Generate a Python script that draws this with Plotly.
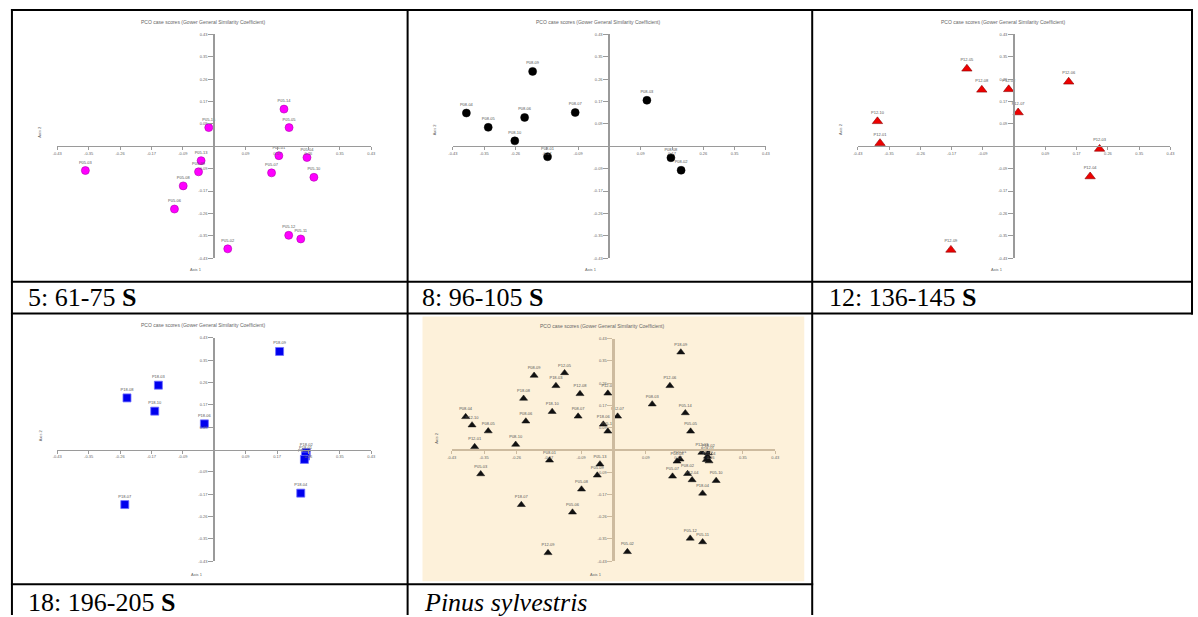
import plotly.graph_objects as go

W, H = 1198, 617

# ---------------- data ----------------
TICK_VALS = [-0.43, -0.344, -0.258, -0.172, -0.086, 0.086, 0.172, 0.258, 0.344, 0.43]
TICK_TEXT = ["-0.43", "-0.35", "-0.26", "-0.17", "-0.09", "0.09", "0.17", "0.26", "0.35", "0.43"]

TITLE = "PCO case scores (Gower General Similarity Coefficient)"

P05_labels = ["P05-15", "P05-14", "P05-05", "P05-01", "P05-04", "P05-07", "P05-10", "P05-03",
              "P05-13", "P05-09", "P05-08", "P05-06", "P05-12", "P05-11", "P05-02"]
P05_x = [-0.015, 0.191, 0.205, 0.177, 0.254, 0.157, 0.273, -0.353,
         -0.036, -0.043, -0.085, -0.109, 0.204, 0.237, 0.037]
P05_y = [0.072, 0.143, 0.072, -0.036, -0.043, -0.102, -0.119, -0.093,
         -0.055, -0.098, -0.152, -0.241, -0.342, -0.356, -0.394]

P08_labels = ["P08-09", "P08-04", "P08-05", "P08-06", "P08-10", "P08-07", "P08-01", "P08-03", "P08-08", "P08-02"]
P08_x = [-0.211, -0.393, -0.333, -0.233, -0.260, -0.094, -0.170, 0.103, 0.169, 0.197]
P08_y = [0.288, 0.128, 0.073, 0.111, 0.021, 0.130, -0.040, 0.177, -0.044, -0.092]

P12_labels = ["P12-05", "P12-08", "P12-02", "P12-06", "P12-07", "P12-10", "P12-01", "P12-03", "P12-04", "P12-09"]
P12_x = [-0.130, -0.089, -0.015, 0.150, 0.011, -0.376, -0.369, 0.235, 0.209, -0.174]
P12_y = [0.298, 0.217, 0.219, 0.248, 0.130, 0.096, 0.012, -0.010, -0.116, -0.398]

P18_labels = ["P18-09", "P18-03", "P18-08", "P18-10", "P18-06", "P18-07", "P18-04", "P18-02", "P18-01", "P18-05"]
P18_x = [0.179, -0.153, -0.239, -0.163, -0.027, -0.245, 0.237, 0.252, 0.250, 0.247]
P18_y = [0.378, 0.248, 0.199, 0.148, 0.099, -0.212, -0.168, -0.012, -0.025, -0.038]

PINUS_labels = P05_labels + P08_labels + P12_labels + P18_labels
PINUS_x = P05_x + P08_x + P12_x + P18_x
PINUS_y = P05_y + P08_y + P12_y + P18_y

CAPTIONS = ["5: 61-75 <b>S</b>", "8: 96-105 <b>S</b>", "12: 136-145 <b>S</b>",
            "18: 196-205 <b>S</b>", "<i>Pinus sylvestris</i>"]

# ---------------- layout helpers ----------------
def px(x):
    return x / W


def py(y):
    return 1 - y / H


fig = go.Figure()
layout = dict(width=W, height=H, margin=dict(l=0, r=0, t=0, b=0), autosize=False,
              paper_bgcolor="white", plot_bgcolor="rgba(0,0,0,0)", showlegend=False)
annotations = []
shapes = []

LBL_FONT = dict(family="Liberation Sans, Arial", size=4, color="#555555")

# panel frames: x-axis pixel extent (x0,x1), y-axis pixel extent (top,bottom)
panels = [
    dict(x0=52.7, x1=369.3, y0=31.7, y1=257.3, title=(200, 19), ax1=(193, 269), ax2=(35, 130),
         data=(P05_labels, P05_x, P05_y),
         marker=dict(symbol="circle", size=8, color="#FF00FF", line=dict(color="#b000b0", width=0.6)),
         axcol="#9a9a9a", axw=1),
    dict(x0=451.7, x1=767.3, y0=31.7, y1=257.3, title=(598, 19), ax1=(591, 269), ax2=(434, 127),
         data=(P08_labels, P08_x, P08_y),
         marker=dict(symbol="circle", size=8, color="#000000", line=dict(color="#000000", width=0.5)),
         axcol="#9a9a9a", axw=1),
    dict(x0=860.0, x1=1175.3, y0=31.7, y1=257.3, title=(1006, 19), ax1=(1000, 269), ax2=(843, 127),
         data=(P12_labels, P12_x, P12_y),
         marker=dict(symbol="triangle-up", size=9, color="#EE0000", line=dict(color="#8a0000", width=0.6)),
         axcol="#9a9a9a", axw=1),
    dict(x0=52.7, x1=369.3, y0=337.7, y1=562.7, title=(200, 325), ax1=(194, 576), ax2=(36, 436),
         data=(P18_labels, P18_x, P18_y),
         marker=dict(symbol="square", size=8, color="#0000EE", line=dict(color="#7070ff", width=0.8)),
         axcol="#9a9a9a", axw=1),
    dict(x0=450.5, x1=776.7, y0=338.5, y1=562.7, title=(602, 326), ax1=(596, 576), ax2=(435, 438),
         data=(PINUS_labels, PINUS_x, PINUS_y),
         marker=dict(symbol="triangle-up", size=7, color="#111111", line=dict(color="#111111", width=0.5)),
         axcol="#cdbb9f", axw=2),
]

# cream background of the species-level plot
shapes.append(dict(type="rect", xref="paper", yref="paper", layer="below",
                   x0=px(421), x1=px(806), y0=py(583), y1=py(316),
                   fillcolor="#FDF1DA", line=dict(width=0)))

for i, p in enumerate(panels):
    n = "" if i == 0 else str(i + 1)
    xa, ya = "xaxis" + n, "yaxis" + n
    cx = (p["x0"] + p["x1"]) / 2
    cy = (p["y0"] + p["y1"]) / 2
    layout[xa] = dict(domain=[px(p["x0"]), px(p["x1"])], range=[-0.43, 0.43], anchor="free",
                      position=py(cy), showline=True, linecolor=p["axcol"], linewidth=p["axw"],
                      ticks="outside", ticklen=3, tickcolor=p["axcol"], tickwidth=1,
                      tickvals=TICK_VALS, ticktext=TICK_TEXT,
                      tickfont=dict(family="Liberation Sans, Arial", size=4, color="#666666"),
                      showgrid=False, zeroline=False, fixedrange=True)
    layout[ya] = dict(domain=[py(p["y1"]), py(p["y0"])], range=[-0.43, 0.43], anchor="free",
                      position=px(cx), showline=True, linecolor=p["axcol"], linewidth=p["axw"] + 1,
                      ticks="outside", ticklen=5, tickcolor=p["axcol"], tickwidth=1,
                      tickvals=TICK_VALS, ticktext=TICK_TEXT,
                      tickfont=dict(family="Liberation Sans, Arial", size=4, color="#666666"),
                      showgrid=False, zeroline=False, fixedrange=True)
    labels, xs, ys = p["data"]
    fig.add_trace(go.Scatter(x=xs, y=ys, text=labels, mode="markers+text",
                             textposition="top center", textfont=LBL_FONT,
                             marker=p["marker"], xaxis="x" + n, yaxis="y" + n,
                             hoverinfo="text", cliponaxis=False))
    tx, ty = p["title"]
    annotations.append(dict(text=TITLE, x=px(tx), y=py(ty), xref="paper", yref="paper",
                            showarrow=False, xanchor="center", yanchor="middle",
                            font=dict(family="Liberation Sans, Arial", size=5, color="#666666")))
    ax1x, ax1y = p["ax1"]
    annotations.append(dict(text="Axis 1", x=px(ax1x), y=py(ax1y), xref="paper", yref="paper",
                            showarrow=False, xanchor="center", yanchor="middle",
                            font=dict(family="Liberation Sans, Arial", size=4, color="#666666")))
    ax2x, ax2y = p["ax2"]
    annotations.append(dict(text="Axis 2", x=px(ax2x), y=py(ax2y), xref="paper", yref="paper",
                            showarrow=False, xanchor="center", yanchor="middle", textangle=-90,
                            font=dict(family="Liberation Sans, Arial", size=4, color="#666666")))

# captions of the table cells
cap_pos = [(21, 297), (418, 297), (829, 297), (21, 604), (421, 604)]
for (cx_, cy_), txt in zip(cap_pos, CAPTIONS):
    annotations.append(dict(text=txt, x=px(cx_), y=py(cy_), xref="paper", yref="paper",
                            showarrow=False, xanchor="left", yanchor="middle",
                            font=dict(family="Liberation Serif, Times New Roman", size=26, color="#000000")))

# table borders
def hline(y, xa, xb):
    shapes.append(dict(type="line", xref="paper", yref="paper", x0=px(xa), x1=px(xb), y0=py(y), y1=py(y),
                       line=dict(color="black", width=2)))


def vline(x, ya, yb):
    shapes.append(dict(type="line", xref="paper", yref="paper", x0=px(x), x1=px(x), y0=py(ya), y1=py(yb),
                       line=dict(color="black", width=2)))


hline(7, 6, 1198)
hline(281, 6, 1198)
hline(313, 6, 1198)
hline(586, 6, 815)
vline(7, 6, 617)
vline(406, 6, 617)
vline(814, 6, 617)
vline(1197, 6, 314)

layout["annotations"] = annotations
layout["shapes"] = shapes
fig.update_layout(**layout)
fig.write_html("out.html")
